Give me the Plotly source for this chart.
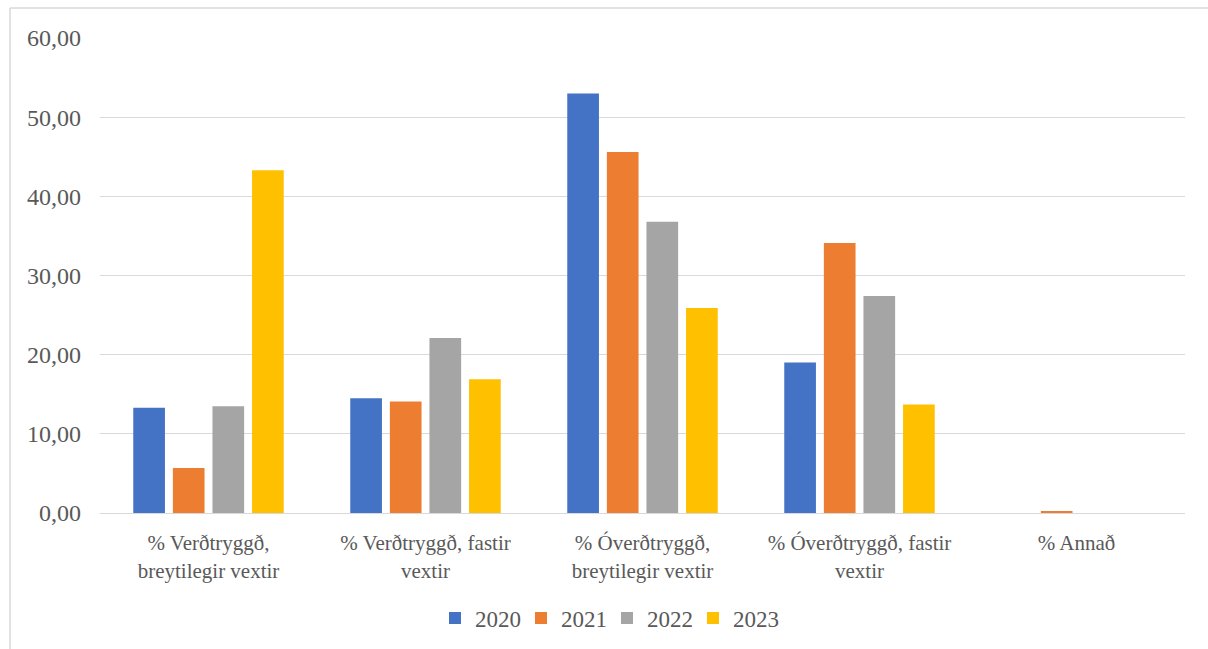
import plotly.graph_objects as go

categories = [
    "% Verðtryggð,<br>breytilegir vextir",
    "% Verðtryggð, fastir<br>vextir",
    "% Óverðtryggð,<br>breytilegir vextir",
    "% Óverðtryggð, fastir<br>vextir",
    "% Annað",
]
years = ["2020", "2021", "2022", "2023"]
values_2020 = [13.3, 14.5, 53.0, 19.0, 0.0]
values_2021 = [5.7, 14.1, 45.6, 34.1, 0.25]
values_2022 = [13.5, 22.1, 36.8, 27.4, 0.0]
values_2023 = [43.3, 16.9, 25.9, 13.7, 0.0]
colors = ["#4472C4", "#ED7D31", "#A5A5A5", "#FFC000"]

series = [values_2020, values_2021, values_2022, values_2023]

fig = go.Figure()
for name, vals, col in zip(years, series, colors):
    fig.add_trace(go.Bar(x=categories, y=vals, name=name,
                         marker=dict(color=col, line=dict(width=0))))

font_family = "Liberation Serif, Times New Roman, serif"
W, H = 1208, 649
ml, mr, mt, mb = 100, 23, 38, 136
pw, ph = W - ml - mr, H - mt - mb

def px_x(p):
    return (p - ml) / pw

def px_y(p):
    return (H - mb - p) / ph

fig.update_layout(
    width=W, height=H,
    margin=dict(l=ml, r=mr, t=mt, b=mb),
    paper_bgcolor="white", plot_bgcolor="white",
    separators=",.",
    barmode="group", bargap=0.27, bargroupgap=0.2,
    font=dict(family=font_family, size=21, color="#595959"),
    yaxis=dict(range=[0, 60], dtick=10, tickformat=".2f",
               showgrid=True, gridcolor="#D9D9D9", gridwidth=1.3,
               zeroline=False, showline=False, ticks="",
               ticklabelstandoff=18, automargin=False,
               tickfont=dict(family=font_family, size=24)),
    xaxis=dict(showline=True, linecolor="#D9D9D9", linewidth=1.3,
               ticks="", automargin=False, ticklabelstandoff=11,
               tickfont=dict(family=font_family, size=21)),
    legend=dict(orientation="h", xref="container", yref="container",
                x=435 / W, xanchor="left", y=1 - 618 / H, yanchor="middle",
                font=dict(family=font_family, size=23), itemwidth=30,
                entrywidth=41, entrywidthmode="pixels",
                traceorder="normal"),
    shapes=[
        dict(type="line", xref="paper", yref="paper",
             x0=px_x(10), x1=px_x(1208), y0=px_y(8), y1=px_y(8),
             line=dict(color="#D9D9D9", width=1.5)),
        dict(type="line", xref="paper", yref="paper",
             x0=px_x(10), x1=px_x(10), y0=px_y(8), y1=px_y(649),
             line=dict(color="#D9D9D9", width=1.5)),
    ],
)

fig.write_html("out.html")
